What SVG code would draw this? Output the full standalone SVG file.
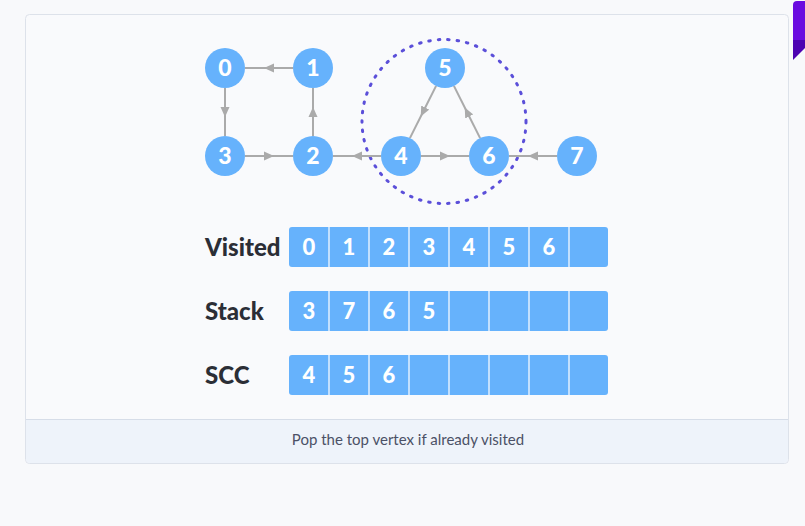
<svg xmlns="http://www.w3.org/2000/svg" width="805" height="526" viewBox="0 0 805 526">
<style>
.node circle{fill:#66b2fc}
.node text{fill:#ffffff;font-family:Lato,"Noto Sans",sans-serif;font-weight:900;font-size:23px;text-anchor:middle}
.edge{stroke:#aaaaaa;stroke-width:2;fill:none;marker-mid:url(#arr)}
.cell{fill:#66b2fc}
.div{stroke:#ffffff;stroke-width:1.2}
.cv{fill:#ffffff;font-family:Lato,"Noto Sans",sans-serif;font-weight:900;font-size:22px;text-anchor:middle}
.lbl{fill:#2b2e36;font-family:Lato,"Noto Sans",sans-serif;font-weight:900;font-size:24px}
</style>
<defs>
<marker id="arr" viewBox="0 0 10 10" refX="5" refY="5" markerWidth="10" markerHeight="10" markerUnits="userSpaceOnUse" orient="auto">
<path d="M0,0.5 L10,5 L0,9.5 z" fill="#aaaaaa"/>
</marker>
</defs>
<rect x="0" y="0" width="805" height="526" fill="#f8f9fb"/>
<g id="card">
<rect x="25.5" y="14.5" width="763" height="449" rx="4" fill="#f9fafc" stroke="#dde2ea"/>
<path d="M26,419.5 H788 V459 Q788,463 784,463 H30 Q26,463 26,459 Z" fill="#eef3fa"/>
<line x1="26" y1="419.5" x2="788" y2="419.5" stroke="#d6dde8"/>
<text x="408" y="445" font-family="Lato,'Noto Sans',sans-serif" font-size="15" fill="#4b5166" text-anchor="middle">Pop the top vertex if already visited</text>
</g>
<g id="tab">
<path d="M805,1 H797 Q793,1 793,5 V40 H805 Z" fill="#6a0be0"/>
<path d="M793,40 H805 V48 L793,60 Z" fill="#4d02b2"/>
</g>
<g id="scc-circle">
<circle cx="444" cy="121.5" r="82" fill="none" stroke="#5b4fd9" stroke-width="3" stroke-linecap="round" stroke-dasharray="1.5 8"/>
</g>
<g id="connectors">
<path class="edge" d="M293,68 L269,68 L245,68"/>
<path class="edge" d="M225,88 L225,112 L225,136"/>
<path class="edge" d="M245,156 L269,156 L293,156"/>
<path class="edge" d="M313,136 L313,112 L313,88"/>
<path class="edge" d="M381,156 L357,156 L333,156"/>
<path class="edge" d="M421,156 L445,156 L469,156"/>
<path class="edge" d="M436.1,85.9 L423,112 L409.9,138.1"/>
<path class="edge" d="M480.1,138.1 L467,112 L453.9,85.9"/>
<path class="edge" d="M557,156 L533,156 L509,156"/>
</g>
<g id="node-0" class="node"><circle cx="225" cy="68" r="20"/><text x="225" y="76">0</text></g>
<g id="node-1" class="node"><circle cx="313" cy="68" r="20"/><text x="313" y="76">1</text></g>
<g id="node-5" class="node"><circle cx="445" cy="68" r="20"/><text x="445" y="76">5</text></g>
<g id="node-3" class="node"><circle cx="225" cy="156" r="20"/><text x="225" y="164">3</text></g>
<g id="node-2" class="node"><circle cx="313" cy="156" r="20"/><text x="313" y="164">2</text></g>
<g id="node-4" class="node"><circle cx="401" cy="156" r="20"/><text x="401" y="164">4</text></g>
<g id="node-6" class="node"><circle cx="489" cy="156" r="20"/><text x="489" y="164">6</text></g>
<g id="node-7" class="node"><circle cx="577" cy="156" r="20"/><text x="577" y="164">7</text></g>
<g id="visited">
<text class="lbl" x="205" y="256">Visited</text>
<rect class="cell" x="289" y="227" width="319" height="40" rx="3"/>
<path class="div" d="M329,227V267M369,227V267M409,227V267M449,227V267M489,227V267M529,227V267M569,227V267"/>
<text class="cv" x="309" y="255">0</text><text class="cv" x="349" y="255">1</text><text class="cv" x="389" y="255">2</text><text class="cv" x="429" y="255">3</text><text class="cv" x="469" y="255">4</text><text class="cv" x="509" y="255">5</text><text class="cv" x="549" y="255">6</text>
</g>
<g id="stack">
<text class="lbl" x="205" y="320">Stack</text>
<rect class="cell" x="289" y="291" width="319" height="40" rx="3"/>
<path class="div" d="M329,291V331M369,291V331M409,291V331M449,291V331M489,291V331M529,291V331M569,291V331"/>
<text class="cv" x="309" y="319">3</text><text class="cv" x="349" y="319">7</text><text class="cv" x="389" y="319">6</text><text class="cv" x="429" y="319">5</text>
</g>
<g id="scc">
<text class="lbl" x="205" y="384">SCC</text>
<rect class="cell" x="289" y="355" width="319" height="40" rx="3"/>
<path class="div" d="M329,355V395M369,355V395M409,355V395M449,355V395M489,355V395M529,355V395M569,355V395"/>
<text class="cv" x="309" y="383">4</text><text class="cv" x="349" y="383">5</text><text class="cv" x="389" y="383">6</text>
</g>
</svg>
